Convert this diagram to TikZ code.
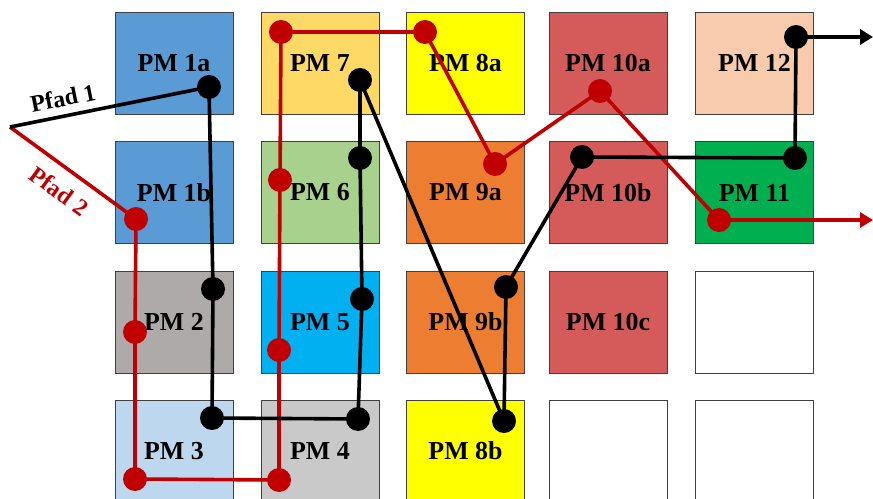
\documentclass[tikz,border=0pt]{standalone}
\usepackage{fontspec}
\setmainfont{Liberation Serif}
\usetikzlibrary{arrows.meta}

\definecolor{pmblue}{HTML}{5B9BD5}
\definecolor{pmgold}{HTML}{FFD966}
\definecolor{pmyellow}{HTML}{FFFF00}
\definecolor{pmrose}{HTML}{D55B5B}
\definecolor{pmpeach}{HTML}{F8CBAD}
\definecolor{pmgreen}{HTML}{A9D18E}
\definecolor{pmorange}{HTML}{ED7D31}
\definecolor{pmdeep}{HTML}{00B050}
\definecolor{pmgrey}{HTML}{AEAAAA}
\definecolor{pmcyan}{HTML}{00B0F0}
\definecolor{pmpale}{HTML}{BDD7EE}
\definecolor{pmsilver}{HTML}{C9C9C9}
\definecolor{pathred}{HTML}{C00000}
\definecolor{frame}{HTML}{404040}

\tikzset{
  pmbox/.style={rectangle, draw=frame, line width=0.8bp, fill=#1,
    minimum width=118bp, minimum height=102bp, inner sep=0pt,
    font=\bfseries\fontsize{26}{26}\selectfont},
  pathblack/.style={draw=black, line width=3.6bp, line join=round},
  pathred/.style={draw=pathred, line width=3.6bp, line join=round},
  bdot/.style={circle, fill=black, minimum size=24bp, inner sep=0pt},
  rdot/.style={circle, fill=pathred, minimum size=24bp, inner sep=0pt},
  tipb/.style={-{Triangle[length=13bp,width=15bp]}},
  pathlabel/.style={font=\bfseries\fontsize{24}{24}\selectfont, inner sep=0pt}
}

\begin{document}
\begin{tikzpicture}[x=1bp, y=-1bp]
\useasboundingbox (0,0) rectangle (873,499);

% module grid
\node[pmbox=pmblue]   (pm1a)  at (174,63)    {PM 1a};
\node[pmbox=pmgold]   (pm7)   at (320,63)    {PM 7};
\node[pmbox=pmyellow] (pm8a)  at (465.5,63)  {PM 8a};
\node[pmbox=pmrose]   (pm10a) at (608,63)    {PM 10a};
\node[pmbox=pmpeach]  (pm12)  at (754.5,63)  {PM 12};

\node[pmbox=pmblue]   (pm1b)  at (174,192.5)   {PM 1b};
\node[pmbox=pmgreen]  (pm6)   at (320,192.5)   {PM 6};
\node[pmbox=pmorange] (pm9a)  at (465.5,192.5) {PM 9a};
\node[pmbox=pmrose]   (pm10b) at (608,192.5)   {PM 10b};
\node[pmbox=pmdeep]   (pm11)  at (754.5,192.5) {PM 11};

\node[pmbox=pmgrey]   (pm2)   at (174,322)   {PM 2};
\node[pmbox=pmcyan]   (pm5)   at (320,322)   {PM 5};
\node[pmbox=pmorange] (pm9b)  at (465.5,322) {PM 9b};
\node[pmbox=pmrose]   (pm10c) at (608,322)   {PM 10c};
\node[pmbox=white]    (e1)    at (754.5,322) {};

\node[pmbox=pmpale]   (pm3)   at (174,451)   {PM 3};
\node[pmbox=pmsilver] (pm4)   at (320,451)   {PM 4};
\node[pmbox=pmyellow] (pm8b)  at (465.5,451) {PM 8b};
\node[pmbox=white]    (e2)    at (608,451)   {};
\node[pmbox=white]    (e3)    at (754.5,451) {};

% common start and path stations
\coordinate (start) at (10,127);

\coordinate (b1)  at (209,87);
\coordinate (b2)  at (213,289);
\coordinate (b3)  at (212,418);
\coordinate (b4)  at (358,419);
\coordinate (b5)  at (362,299);
\coordinate (b6)  at (360,158);
\coordinate (b7)  at (360,80);
\coordinate (b8)  at (504,421);
\coordinate (b9)  at (506,287);
\coordinate (b10) at (582,157);
\coordinate (b11) at (795,158);
\coordinate (b12) at (796,37);
\coordinate (bout) at (873,37);

\coordinate (r1)  at (136,219);
\coordinate (r2)  at (135,332);
\coordinate (r3)  at (135,479);
\coordinate (r4)  at (279,480);
\coordinate (r5)  at (279,350);
\coordinate (r6)  at (280,180);
\coordinate (r7)  at (281,32);
\coordinate (r8)  at (425,32);
\coordinate (r9)  at (495,164);
\coordinate (r10) at (600,91);
\coordinate (r11) at (719,220);
\coordinate (rout) at (873,220);

% Pfad 2
\draw[pathred] (start) -- (r1) -- (r2) -- (r3) -- (r4) -- (r5) -- (r6)
  -- (r7) -- (r8) -- (r9) -- (r10) -- (r11);
\draw[pathred, tipb] (r11) -- (rout);

% Pfad 1
\draw[pathblack] (start) -- (b1) -- (b2) -- (b3) -- (b4) -- (b5) -- (b6)
  -- (b7) -- (b8) -- (b9) -- (b10) -- (b11) -- (b12);
\draw[pathblack, tipb] (b12) -- (bout);

% station dots
\foreach \p in {r1,r2,r3,r4,r5,r6,r7,r8,r9,r10,r11}
  \node[rdot] (d\p) at (\p) {};
\foreach \p in {b1,b2,b3,b4,b5,b6,b7,b8,b9,b10,b11,b12}
  \node[bdot] (d\p) at (\p) {};

% path labels
\node[pathlabel, rotate=11.3] (lab1) at (63,98) {Pfad 1};
\node[pathlabel, text=pathred, rotate=-36] (lab2) at (59,191) {Pfad 2};
\end{tikzpicture}
\end{document}
